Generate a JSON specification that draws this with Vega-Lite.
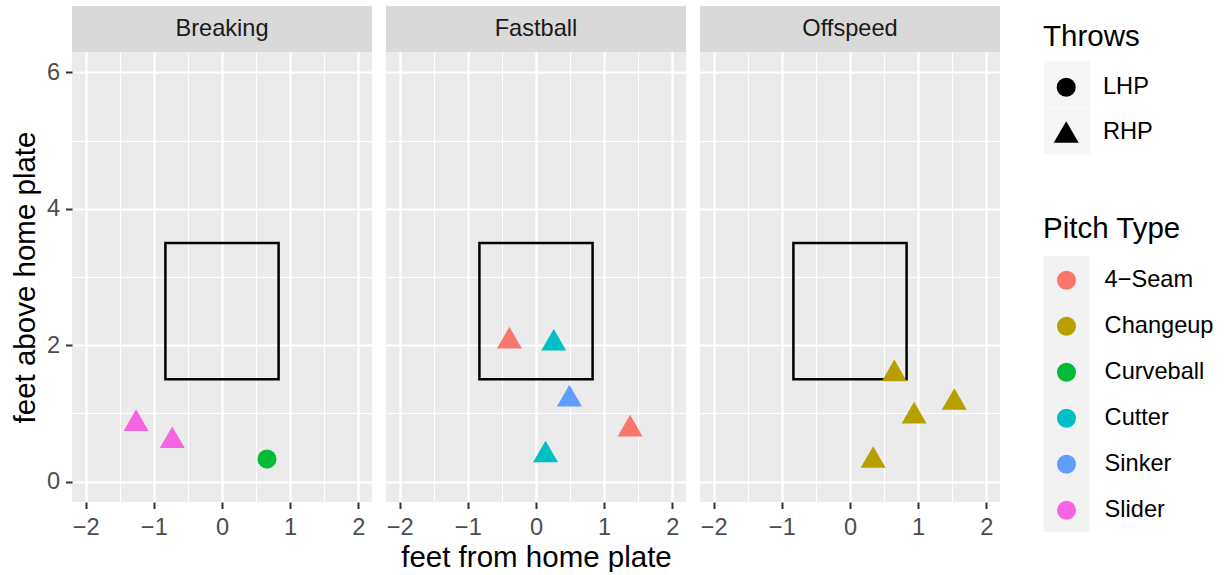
{
 "$schema": "https://vega.github.io/schema/vega-lite/v6.json",
 "padding": {"left": 10, "top": 6, "right": 0, "bottom": 0},
 "background": "white",
 "datasets": {"d": [
  {"type": "Breaking", "kind": "zone", "px": -0.83, "px2": 0.83, "pz": 1.5, "pz2": 3.5},
  {"type": "Fastball", "kind": "zone", "px": -0.83, "px2": 0.83, "pz": 1.5, "pz2": 3.5},
  {"type": "Offspeed", "kind": "zone", "px": -0.83, "px2": 0.83, "pz": 1.5, "pz2": 3.5},
  {"type": "Breaking", "kind": "pitch", "pitch": "Slider", "throws": "RHP", "px": -1.26, "pz": 0.90},
  {"type": "Breaking", "kind": "pitch", "pitch": "Slider", "throws": "RHP", "px": -0.73, "pz": 0.65},
  {"type": "Breaking", "kind": "pitch", "pitch": "Curveball", "throws": "LHP", "px": 0.66, "pz": 0.33},
  {"type": "Fastball", "kind": "pitch", "pitch": "4-Seam", "throws": "RHP", "px": -0.39, "pz": 2.11},
  {"type": "Fastball", "kind": "pitch", "pitch": "Cutter", "throws": "RHP", "px": 0.26, "pz": 2.08},
  {"type": "Fastball", "kind": "pitch", "pitch": "Sinker", "throws": "RHP", "px": 0.49, "pz": 1.26},
  {"type": "Fastball", "kind": "pitch", "pitch": "4-Seam", "throws": "RHP", "px": 1.38, "pz": 0.82},
  {"type": "Fastball", "kind": "pitch", "pitch": "Cutter", "throws": "RHP", "px": 0.14, "pz": 0.44},
  {"type": "Offspeed", "kind": "pitch", "pitch": "Changeup", "throws": "RHP", "px": 0.65, "pz": 1.63},
  {"type": "Offspeed", "kind": "pitch", "pitch": "Changeup", "throws": "RHP", "px": 1.53, "pz": 1.21},
  {"type": "Offspeed", "kind": "pitch", "pitch": "Changeup", "throws": "RHP", "px": 0.94, "pz": 1.01},
  {"type": "Offspeed", "kind": "pitch", "pitch": "Changeup", "throws": "RHP", "px": 0.34, "pz": 0.36}
 ]},
 "data": {"name": "d"},
 "config": {
  "font": "Liberation Sans",
  "view": {"fill": "#EBEBEB", "stroke": null},
  "axis": {"domain": false, "gridColor": "#FFFFFF", "gridOpacity": 1, "tickSize": 6.5, "tickWidth": 2, "tickColor": "#333333", "labelFont": "Liberation Sans", "labelFontSize": 23.6, "labelColor": "#4D4D4D", "labelPadding": 7, "titleFont": "Liberation Sans", "titleFontSize": 29.5, "titleFontWeight": "normal", "titleColor": "#000000", "labelFlush": false, "labelOverlap": false, "labelBound": false},
  "legend": {"labelFont": "Liberation Sans", "labelFontSize": 23.6, "labelColor": "#000000", "titleFont": "Liberation Sans", "titleFontSize": 29.5, "titleFontWeight": "normal", "titleColor": "#000000", "padding": 0}
 },
 "resolve": {"scale": {"color": "shared", "shape": "shared", "size": "shared", "opacity": "shared", "stroke": "shared"}},
 "spacing": 14,
 "hconcat": [
  {"spacing": 0, "vconcat": [
   {"width": 300, "height": 46, "view": {"fill": "#D9D9D9", "stroke": null},
    "transform": [{"filter": "datum.kind === 'zone' && datum.type === 'Breaking'"}],
    "mark": {"type": "text", "fontSize": 23.6, "color": "#1A1A1A", "font": "Liberation Sans"},
    "encoding": {"text": {"field": "type", "type": "nominal"}}},
   {"width": 300, "height": 450,
    "transform": [{"filter": "datum.type === 'Breaking'"}],
    "encoding": {
     "x": {"field": "px", "type": "quantitative", "scale": {"domain": [-2.2, 2.2], "nice": false, "zero": false},
      "axis": {"title": null, "values": [-2, -1.5, -1, -0.5, 0, 0.5, 1, 1.5, 2], "labelExpr": "datum.value % 1 === 0 ? format(datum.value, 'd') : ''", "gridWidth": {"condition": {"test": "datum.value % 1 !== 0", "value": 1.1}, "value": 2.2}, "tickColor": {"condition": {"test": "datum.value % 1 !== 0", "value": "transparent"}, "value": "#333333"}}},
     "y": {"field": "pz", "type": "quantitative", "scale": {"domain": [-0.3, 6.3], "nice": false, "zero": false},
      "axis": {"title": "feet above home plate", "values": [0, 1, 2, 3, 4, 5, 6], "labelExpr": "datum.value % 2 === 0 ? format(datum.value, 'd') : ''", "gridWidth": {"condition": {"test": "datum.value % 2 !== 0", "value": 1.1}, "value": 2.2}, "tickColor": {"condition": {"test": "datum.value % 2 !== 0", "value": "transparent"}, "value": "#333333"}, "titlePadding": 6, "labelPadding": 6}}
    },
    "layer": [
     {"transform": [{"filter": "datum.kind === 'zone'"}], "mark": {"type": "rect", "fillOpacity": 0, "stroke": "#000000", "strokeWidth": 2.5}, "encoding": {"x2": {"field": "px2"}, "y2": {"field": "pz2"}}},
     {"transform": [{"filter": "datum.kind === 'pitch'"}], "mark": {"type": "point", "filled": true, "size": 0, "color": "#F2F2F2"},
      "encoding": {
       "opacity": {"field": "pitch", "type": "nominal", "title": "Pitch Type", "scale": {"type": "ordinal", "domain": ["Slider", "Sinker", "Cutter", "Curveball", "Changeup", "4-Seam"], "range": [1, 1, 1, 1, 1, 1]}, "legend": {"orient": "none", "legendX": 971, "legendY": 209, "zindex": 0, "symbolType": "square", "symbolSize": 2116, "symbolStrokeWidth": 0, "symbolFillColor": "#F2F2F2", "symbolOffset": 0.7, "titleColor": "transparent", "titlePadding": 11.4, "rowPadding": 0, "labelExpr": "''"}},
       "stroke": {"field": "throws", "type": "nominal", "title": "Throws", "scale": {"domain": ["RHP", "LHP"], "range": ["#F2F2F2", "#F2F2F2"]}, "legend": {"orient": "none", "legendX": 971, "legendY": 17, "zindex": 0, "symbolType": "square", "symbolSize": 2162, "symbolStrokeWidth": 0, "symbolFillColor": "#F2F2F2", "symbolOffset": 0.5, "titleColor": "transparent", "titlePadding": 8, "rowPadding": 0, "labelExpr": "''"}}
      }},
     {"transform": [{"filter": "datum.kind === 'pitch'"}], "mark": {"type": "point", "filled": true, "opacity": 1},
      "encoding": {
       "color": {"field": "pitch", "type": "nominal", "title": "Pitch Type", "scale": {"domain": ["4-Seam", "Changeup", "Curveball", "Cutter", "Sinker", "Slider"], "range": ["#F8766D", "#B79F00", "#00BA38", "#00BFC4", "#619CFF", "#F564E3"]}, "legend": {"orient": "none", "legendX": 971, "legendY": 209, "zindex": 1, "symbolType": "circle", "symbolSize": 361, "symbolStrokeWidth": 0, "symbolOpacity": 1, "titlePadding": 24, "rowPadding": 21, "symbolOffset": 11.7, "labelOffset": 26.3, "labelExpr": "replace(datum.label, '-', '−')"}},
       "shape": {"field": "throws", "type": "nominal", "title": "Throws", "scale": {"domain": ["LHP", "RHP"], "range": ["circle", "triangle-up"]}, "legend": {"orient": "none", "legendX": 971, "legendY": 17, "zindex": 1, "titlePadding": 23, "rowPadding": 20, "symbolFillColor": "#000000", "symbolStrokeWidth": 0, "symbolOpacity": 1, "symbolOffset": 10.7, "labelOffset": 24.3}},
       "size": {"field": "throws", "type": "nominal", "title": "Throws", "scale": {"type": "ordinal", "domain": ["LHP", "RHP"], "range": [361, 625]}, "legend": {"orient": "none", "legendX": 971, "legendY": 17, "zindex": 1, "titlePadding": 23, "rowPadding": 20, "symbolFillColor": "#000000", "symbolStrokeWidth": 0, "symbolOpacity": 1, "symbolOffset": 10.7, "labelOffset": 24.3}}
      }}
    ]}
  ]},
  {"spacing": 0, "vconcat": [
   {"width": 300, "height": 46, "view": {"fill": "#D9D9D9", "stroke": null},
    "transform": [{"filter": "datum.kind === 'zone' && datum.type === 'Fastball'"}],
    "mark": {"type": "text", "fontSize": 23.6, "color": "#1A1A1A", "font": "Liberation Sans"},
    "encoding": {"text": {"field": "type", "type": "nominal"}}},
   {"width": 300, "height": 450,
    "transform": [{"filter": "datum.type === 'Fastball'"}],
    "encoding": {
     "x": {"field": "px", "type": "quantitative", "scale": {"domain": [-2.2, 2.2], "nice": false, "zero": false},
      "axis": {"title": "feet from home plate", "values": [-2, -1.5, -1, -0.5, 0, 0.5, 1, 1.5, 2], "labelExpr": "datum.value % 1 === 0 ? format(datum.value, 'd') : ''", "gridWidth": {"condition": {"test": "datum.value % 1 !== 0", "value": 1.1}, "value": 2.2}, "tickColor": {"condition": {"test": "datum.value % 1 !== 0", "value": "transparent"}, "value": "#333333"}}},
     "y": {"field": "pz", "type": "quantitative", "scale": {"domain": [-0.3, 6.3], "nice": false, "zero": false},
      "axis": {"title": null, "labels": false, "ticks": false, "values": [0, 1, 2, 3, 4, 5, 6], "gridWidth": {"condition": {"test": "datum.value % 2 !== 0", "value": 1.1}, "value": 2.2}}}
    },
    "layer": [
     {"transform": [{"filter": "datum.kind === 'zone'"}], "mark": {"type": "rect", "fillOpacity": 0, "stroke": "#000000", "strokeWidth": 2.5}, "encoding": {"x2": {"field": "px2"}, "y2": {"field": "pz2"}}},
     {"transform": [{"filter": "datum.kind === 'pitch'"}], "mark": {"type": "point", "filled": true, "opacity": 1},
      "encoding": {
       "color": {"field": "pitch", "type": "nominal", "title": "Pitch Type", "scale": {"domain": ["4-Seam", "Changeup", "Curveball", "Cutter", "Sinker", "Slider"], "range": ["#F8766D", "#B79F00", "#00BA38", "#00BFC4", "#619CFF", "#F564E3"]}, "legend": {"orient": "none", "legendX": 971, "legendY": 209, "zindex": 1, "symbolType": "circle", "symbolSize": 361, "symbolStrokeWidth": 0, "symbolOpacity": 1, "titlePadding": 24, "rowPadding": 21, "symbolOffset": 11.7, "labelOffset": 26.3, "labelExpr": "replace(datum.label, '-', '−')"}},
       "shape": {"field": "throws", "type": "nominal", "title": "Throws", "scale": {"domain": ["LHP", "RHP"], "range": ["circle", "triangle-up"]}, "legend": {"orient": "none", "legendX": 971, "legendY": 17, "zindex": 1, "titlePadding": 23, "rowPadding": 20, "symbolFillColor": "#000000", "symbolStrokeWidth": 0, "symbolOpacity": 1, "symbolOffset": 10.7, "labelOffset": 24.3}},
       "size": {"field": "throws", "type": "nominal", "title": "Throws", "scale": {"type": "ordinal", "domain": ["LHP", "RHP"], "range": [361, 625]}, "legend": {"orient": "none", "legendX": 971, "legendY": 17, "zindex": 1, "titlePadding": 23, "rowPadding": 20, "symbolFillColor": "#000000", "symbolStrokeWidth": 0, "symbolOpacity": 1, "symbolOffset": 10.7, "labelOffset": 24.3}}
      }}
    ]}
  ]},
  {"spacing": 0, "vconcat": [
   {"width": 300, "height": 46, "view": {"fill": "#D9D9D9", "stroke": null},
    "transform": [{"filter": "datum.kind === 'zone' && datum.type === 'Offspeed'"}],
    "mark": {"type": "text", "fontSize": 23.6, "color": "#1A1A1A", "font": "Liberation Sans"},
    "encoding": {"text": {"field": "type", "type": "nominal"}}},
   {"width": 300, "height": 450,
    "transform": [{"filter": "datum.type === 'Offspeed'"}],
    "encoding": {
     "x": {"field": "px", "type": "quantitative", "scale": {"domain": [-2.2, 2.2], "nice": false, "zero": false},
      "axis": {"title": null, "values": [-2, -1.5, -1, -0.5, 0, 0.5, 1, 1.5, 2], "labelExpr": "datum.value % 1 === 0 ? format(datum.value, 'd') : ''", "gridWidth": {"condition": {"test": "datum.value % 1 !== 0", "value": 1.1}, "value": 2.2}, "tickColor": {"condition": {"test": "datum.value % 1 !== 0", "value": "transparent"}, "value": "#333333"}}},
     "y": {"field": "pz", "type": "quantitative", "scale": {"domain": [-0.3, 6.3], "nice": false, "zero": false},
      "axis": {"title": null, "labels": false, "ticks": false, "values": [0, 1, 2, 3, 4, 5, 6], "gridWidth": {"condition": {"test": "datum.value % 2 !== 0", "value": 1.1}, "value": 2.2}}}
    },
    "layer": [
     {"transform": [{"filter": "datum.kind === 'zone'"}], "mark": {"type": "rect", "fillOpacity": 0, "stroke": "#000000", "strokeWidth": 2.5}, "encoding": {"x2": {"field": "px2"}, "y2": {"field": "pz2"}}},
     {"transform": [{"filter": "datum.kind === 'pitch'"}], "mark": {"type": "point", "filled": true, "opacity": 1},
      "encoding": {
       "color": {"field": "pitch", "type": "nominal", "title": "Pitch Type", "scale": {"domain": ["4-Seam", "Changeup", "Curveball", "Cutter", "Sinker", "Slider"], "range": ["#F8766D", "#B79F00", "#00BA38", "#00BFC4", "#619CFF", "#F564E3"]}, "legend": {"orient": "none", "legendX": 971, "legendY": 209, "zindex": 1, "symbolType": "circle", "symbolSize": 361, "symbolStrokeWidth": 0, "symbolOpacity": 1, "titlePadding": 24, "rowPadding": 21, "symbolOffset": 11.7, "labelOffset": 26.3, "labelExpr": "replace(datum.label, '-', '−')"}},
       "shape": {"field": "throws", "type": "nominal", "title": "Throws", "scale": {"domain": ["LHP", "RHP"], "range": ["circle", "triangle-up"]}, "legend": {"orient": "none", "legendX": 971, "legendY": 17, "zindex": 1, "titlePadding": 23, "rowPadding": 20, "symbolFillColor": "#000000", "symbolStrokeWidth": 0, "symbolOpacity": 1, "symbolOffset": 10.7, "labelOffset": 24.3}},
       "size": {"field": "throws", "type": "nominal", "title": "Throws", "scale": {"type": "ordinal", "domain": ["LHP", "RHP"], "range": [361, 625]}, "legend": {"orient": "none", "legendX": 971, "legendY": 17, "zindex": 1, "titlePadding": 23, "rowPadding": 20, "symbolFillColor": "#000000", "symbolStrokeWidth": 0, "symbolOpacity": 1, "symbolOffset": 10.7, "labelOffset": 24.3}}
      }}
    ]}
  ]}
 ]
}
